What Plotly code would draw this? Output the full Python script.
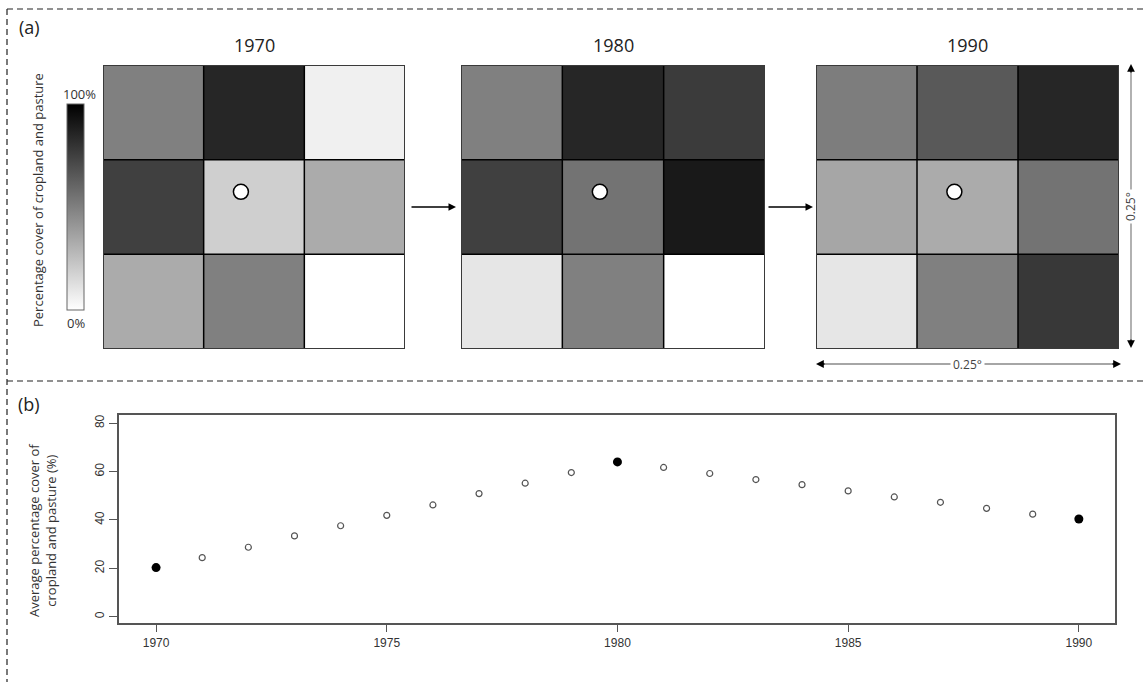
import plotly.graph_objects as go

W, H = 1147, 682

# ---------------- data ----------------
grid_years = ["1970", "1980", "1990"]
# percentage cover of cropland and pasture in the 3x3 cells (rows top -> bottom)
cover_1970 = [[50, 85, 6], [75, 19, 33], [33, 50, 0]]
cover_1980 = [[50, 85, 77], [75, 55, 90], [10, 50, 0]]
cover_1990 = [[51, 65, 85], [35, 33, 55], [10, 50, 78]]
site_x = [0.87]
site_y = [0.84]

years = list(range(1970, 1991))
avg_cover = [20.3, 24.4, 28.7, 33.4, 37.6, 41.9, 46.2, 50.9, 55.2, 59.6, 64.0,
             61.7, 59.2, 56.7, 54.6, 52.0, 49.5, 47.3, 44.8, 42.4, 40.4]
decade_years = [1970, 1980, 1990]
x_ticks = [1970, 1975, 1980, 1985, 1990]
y_ticks = [0, 20, 40, 60, 80]


def px(x):
    return x / W


def py(y):
    return 1 - y / H


FONT = "'Open Sans', sans-serif"
fig = go.Figure()

grid_left = [103, 461, 816]
grid_right = [405, 765, 1119]
grid_top, grid_bot = 65, 349
covers = [cover_1970, cover_1980, cover_1990]

shapes = []
annotations = []
for i, (yr, z) in enumerate(zip(grid_years, covers)):
    xa = "x" if i == 0 else f"x{i+1}"
    ya = "y" if i == 0 else f"y{i+1}"
    fig.add_trace(go.Heatmap(z=z, x=[0, 1, 2], y=[0, 1, 2], coloraxis="coloraxis",
                             xaxis=xa, yaxis=ya, hoverinfo="skip"))
    fig.add_trace(go.Scatter(x=site_x, y=site_y, mode="markers", xaxis=xa, yaxis=ya,
                             marker=dict(size=15, color="white",
                                         line=dict(color="black", width=1.5)),
                             showlegend=False, hoverinfo="skip"))
    key = "" if i == 0 else str(i + 1)
    fig.update_layout(**{
        f"xaxis{key}": dict(domain=[px(grid_left[i]), px(grid_right[i])], range=[-0.5, 2.5],
                            showgrid=False, zeroline=False, showticklabels=False,
                            ticks="", fixedrange=True, anchor=ya),
        f"yaxis{key}": dict(domain=[py(grid_bot), py(grid_top)], range=[2.5, -0.5],
                            showgrid=False, zeroline=False, showticklabels=False,
                            ticks="", fixedrange=True, anchor=xa),
    })
    # interior grid lines
    for b in [0.5, 1.5]:
        shapes.append(dict(type="line", xref=xa, yref=ya, x0=b, x1=b, y0=-0.5, y1=2.5,
                           line=dict(color="black", width=1.5)))
        shapes.append(dict(type="line", xref=xa, yref=ya, x0=-0.5, x1=2.5, y0=b, y1=b,
                           line=dict(color="black", width=1.5)))
    shapes.append(dict(type="rect", xref=xa, yref=ya, x0=-0.5, x1=2.5, y0=-0.5, y1=2.5,
                       line=dict(color="#3a3a3a", width=2)))
    annotations.append(dict(text=yr, x=px((grid_left[i] + grid_right[i]) / 2), y=py(45),
                            showarrow=False,
                            font=dict(family=FONT, size=18, color="#222")))

# ---------------- panel (b) scatter ----------------
is_decade = [y in decade_years for y in years]
fig.add_trace(go.Scatter(x=[y for y, d in zip(years, is_decade) if not d],
                         y=[v for v, d in zip(avg_cover, is_decade) if not d],
                         mode="markers", xaxis="x4", yaxis="y4",
                         marker=dict(symbol="circle-open", size=6, color="#555",
                                     line=dict(width=1.2, color="#555")),
                         showlegend=False))
fig.add_trace(go.Scatter(x=[y for y, d in zip(years, is_decade) if d],
                         y=[v for v, d in zip(avg_cover, is_decade) if d],
                         mode="markers", xaxis="x4", yaxis="y4",
                         marker=dict(symbol="circle", size=9, color="black"),
                         showlegend=False))

tick_font = dict(family="'Liberation Sans', Arial, sans-serif", size=12, color="#333")
fig.update_layout(
    xaxis4=dict(domain=[px(118.7), px(1115.3)], range=[1969.19, 1990.79], anchor="y4",
                tickvals=x_ticks, ticks="outside", ticklen=8, tickcolor="#555", tickwidth=1.2,
                showline=True, mirror=True, linecolor="#555", linewidth=1.5,
                showgrid=False, zeroline=False, tickfont=tick_font),
    yaxis4=dict(domain=[py(622.7), py(415)], range=[-2.5, 83.4], anchor="x4",
                tickvals=y_ticks, ticks="outside", ticklen=8, tickcolor="#555", tickwidth=1.2,
                tickangle=-90, showline=True, mirror=True, linecolor="#555", linewidth=1.5,
                showgrid=False, zeroline=False, tickfont=tick_font),
)

# ---------------- colour bar ----------------
fig.update_layout(coloraxis=dict(
    cmin=0, cmax=100, colorscale=[[0, "white"], [1, "black"]],
    colorbar=dict(x=px(67), xanchor="left", y=py(207), yanchor="middle",
                  len=206, lenmode="pixels", thickness=17, thicknessmode="pixels",
                  xpad=0, ypad=0, outlinewidth=1, outlinecolor="#666",
                  showticklabels=False, ticks="")))

annotations += [
    dict(text="100%", x=px(79), y=py(94), showarrow=False,
         font=dict(family=FONT, size=13, color="#333")),
    dict(text="0%", x=px(76), y=py(323), showarrow=False,
         font=dict(family=FONT, size=13, color="#333")),
    dict(text="Percentage cover of cropland and pasture", x=px(38), y=py(200), textangle=-90,
         showarrow=False, font=dict(family=FONT, size=13, color="#333")),
    dict(text="(a)", x=px(29), y=py(27), showarrow=False,
         font=dict(family=FONT, size=18, color="#222")),
    dict(text="(b)", x=px(29), y=py(404), showarrow=False,
         font=dict(family=FONT, size=18, color="#222")),
    dict(text="Average percentage cover of<br>cropland and pasture (%)", x=px(42), y=py(531),
         textangle=-90, showarrow=False,
         font=dict(family=FONT, size=13, color="#333")),
]

# arrows between the grids
for x_head in [456, 813]:
    annotations.append(dict(x=px(x_head), y=py(207), ax=-46, ay=0, text="", showarrow=True,
                            arrowhead=2, arrowsize=1, arrowwidth=1.5, arrowcolor="black"))

# 0.25 degree scale arrows
shapes.append(dict(type="line", xref="paper", yref="paper", x0=px(1131), x1=px(1131),
                   y0=py(70), y1=py(343), line=dict(color="#888", width=1.3)))
shapes.append(dict(type="line", xref="paper", yref="paper", x0=px(822), x1=px(1115),
                   y0=py(364), y1=py(364), line=dict(color="#888", width=1.3)))
for (hx, hy, ax, ay) in [(1131, 64, 0, 10), (1131, 348, 0, -10),
                         (816, 364, 10, 0), (1121, 364, -10, 0)]:
    annotations.append(dict(x=px(hx), y=py(hy), ax=ax, ay=ay, text="", showarrow=True,
                            arrowhead=2, arrowsize=1.2, arrowwidth=1.3, arrowcolor="black"))
annotations.append(dict(text="0.25°", x=px(1131), y=py(207), textangle=-90, showarrow=False,
                        bgcolor="white", borderpad=2,
                        font=dict(family=FONT, size=12, color="#444")))
annotations.append(dict(text="0.25°", x=px(968), y=py(364), showarrow=False,
                        bgcolor="white", borderpad=2,
                        font=dict(family=FONT, size=12, color="#444")))

for a in annotations:
    a.setdefault("xref", "paper")
    a.setdefault("yref", "paper")
    if not a.get("showarrow", True) is True:
        a.setdefault("xanchor", "center")
        a.setdefault("yanchor", "middle")

# dashed panel borders
dash = dict(color="#222", width=1.2, dash="6px,4px")
shapes += [
    dict(type="line", xref="paper", yref="paper", x0=px(7), x1=1, y0=py(9), y1=py(9), line=dash),
    dict(type="line", xref="paper", yref="paper", x0=px(7), x1=px(7), y0=py(9), y1=0, line=dash),
    dict(type="line", xref="paper", yref="paper", x0=px(7), x1=1, y0=py(381), y1=py(381), line=dash),
]

fig.update_layout(width=W, height=H, margin=dict(l=0, r=0, t=0, b=0),
                  paper_bgcolor="white", plot_bgcolor="white",
                  shapes=shapes, annotations=annotations, showlegend=False)

fig.write_html("out.html", config={"displayModeBar": False},
               post_script="document.body.style.margin='0';")
